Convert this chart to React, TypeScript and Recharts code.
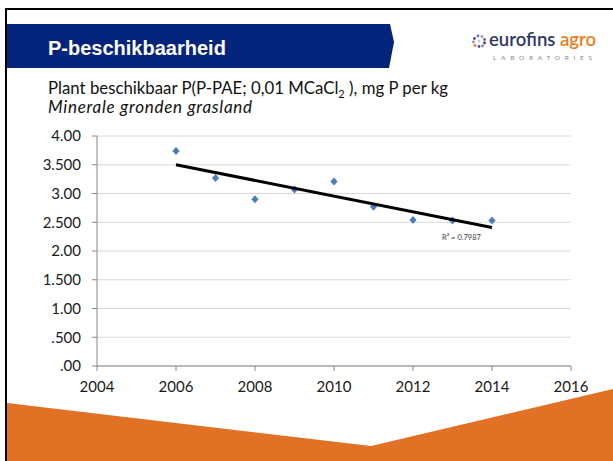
import React from 'react';
import { ComposedChart, Scatter, XAxis, YAxis, CartesianGrid } from 'recharts';

const years = [2006, 2007, 2008, 2009, 2010, 2011, 2012, 2013, 2014];
const pValues = [3.74, 3.27, 2.9, 3.07, 3.21, 2.77, 2.54, 2.53, 2.53];
const trendYears = [2006, 2014];
const trendValues = [3.5, 2.41];
const xTicks = [2004, 2006, 2008, 2010, 2012, 2014, 2016];
const yTicks = [0, 0.5, 1, 1.5, 2, 2.5, 3, 3.5, 4];
const yTickLabels = ['.00', '.500', '1.00', '1.500', '2.00', '2.500', '3.00', '3.500', '4.00'];
const titleText = 'P-beschikbaarheid';
const subtitleMain = 'Plant beschikbaar P(P-PAE; 0,01 MCaCl';
const subtitleSub = '2';
const subtitleEnd = ' ), mg P per kg';
const subtitleItalic = 'Minerale gronden grasland';
const r2Label = 'R\u00B2 = 0.7987';

const points = years.map((year, i) => ({ year, value: pValues[i] }));
const trend = trendYears.map((year, i) => ({ year, value: trendValues[i] }));

const Diamond = (props: any) => {
  const { cx, cy } = props;
  if (cx == null || cy == null) return <g />;
  return (
    <polygon
      points={`${cx},${cy - 4} ${cx + 3.6},${cy} ${cx},${cy + 4} ${cx - 3.6},${cy}`}
      fill="#4a7ebb"
    />
  );
};

const NoShape = () => <g />;

const tickFont = { fontFamily: 'Lato, sans-serif', fontSize: 15, fill: '#1a1a1a' };

export default function App() {
  return (
    <div style={{ position: 'absolute', left: 0, top: 0, width: 613, height: 461, background: '#fff', overflow: 'hidden' }}>
      <svg width={613} height={461} style={{ position: 'absolute', left: 0, top: 0 }}>
        <rect x={5} y={8} width={608} height={2} fill="#000" />
        <rect x={5} y={8} width={2} height={453} fill="#000" />
        <polygon points="7,24 390,24 394,42 389,68 7,68" fill="#04237a" />
        <text x={48} y={55} fill="#fff" fontFamily="'Liberation Sans', Arial, sans-serif" fontWeight="bold" fontSize={20}>
          {titleText}
        </text>
        <text x={48} y={94} fill="#111" fontFamily="Lato, sans-serif" fontSize={16.8}>
          {subtitleMain}
          <tspan fontSize={11} dy={4}>{subtitleSub}</tspan>
          <tspan dy={-4}>{subtitleEnd}</tspan>
        </text>
        <text x={48} y={113} fill="#111" fontFamily="Lato, sans-serif" fontSize={17} fontStyle="italic" textLength={204} lengthAdjust="spacing">
          {subtitleItalic}
        </text>
        <g>
          <circle cx={478} cy={36} r={1.4} fill="#6b6fb5" />
          <circle cx={482} cy={36.5} r={1.4} fill="#9b9bc9" />
          <circle cx={474.5} cy={38.5} r={1.4} fill="#3b4a9a" />
          <circle cx={484.5} cy={39.5} r={1.4} fill="#5a5fa8" />
          <circle cx={473.5} cy={42} r={1.4} fill="#8a8fc4" />
          <circle cx={479} cy={41} r={1.4} fill="#c4c6e2" />
          <circle cx={484.5} cy={43} r={1.4} fill="#2f3a8a" />
          <circle cx={475} cy={45.5} r={1.4} fill="#ef7d22" />
          <circle cx={479} cy={46.5} r={1.4} fill="#4a55a0" />
          <circle cx={482.5} cy={46} r={1.4} fill="#7a7fbb" />
        </g>
        <text x={489} y={46} fontFamily="Lato, sans-serif" fontSize={18.5} fontWeight={600} fill="#2f3768">
          eurofins <tspan fill="#ef7d22">agro</tspan>
        </text>
        <text x={493} y={59.5} fontFamily="Lato, sans-serif" fontSize={6.5} fill="#8a8a8a" textLength={99} lengthAdjust="spacing">
          LABORATORIES
        </text>
        <polygon points="7,403 371,446 613,389 613,461 7,461" fill="#e17124" />
        <text x={442} y={240} fontFamily="Lato, sans-serif" fontSize={7.5} fill="#404040">
          {r2Label}
        </text>
      </svg>
      <div style={{ position: 'absolute', left: 0, top: 0 }}>
        <ComposedChart width={613} height={461} margin={{ top: 136, right: 42, bottom: 65, left: 37 }}>
          <CartesianGrid horizontal vertical={false} stroke="#d9d9d9" />
          <XAxis
            type="number"
            dataKey="year"
            domain={[2004, 2016]}
            ticks={xTicks}
            allowDataOverflow
            height={30}
            stroke="#868686"
            tickSize={5}
            tickMargin={10}
            tick={tickFont}
            interval={0}
          />
          <YAxis
            type="number"
            dataKey="value"
            domain={[0, 4]}
            ticks={yTicks}
            width={60}
            stroke="#868686"
            tickSize={5}
            tickMargin={11}
            tick={tickFont}
            interval={0}
            tickFormatter={(v: number) => yTickLabels[yTicks.indexOf(v)] ?? String(v)}
          />
          <Scatter data={points} dataKey="value" shape={Diamond} isAnimationActive={false} />
          <Scatter
            data={trend}
            dataKey="value"
            shape={NoShape}
            line={{ stroke: '#000', strokeWidth: 3 }}
            isAnimationActive={false}
          />
        </ComposedChart>
      </div>
    </div>
  );
}
